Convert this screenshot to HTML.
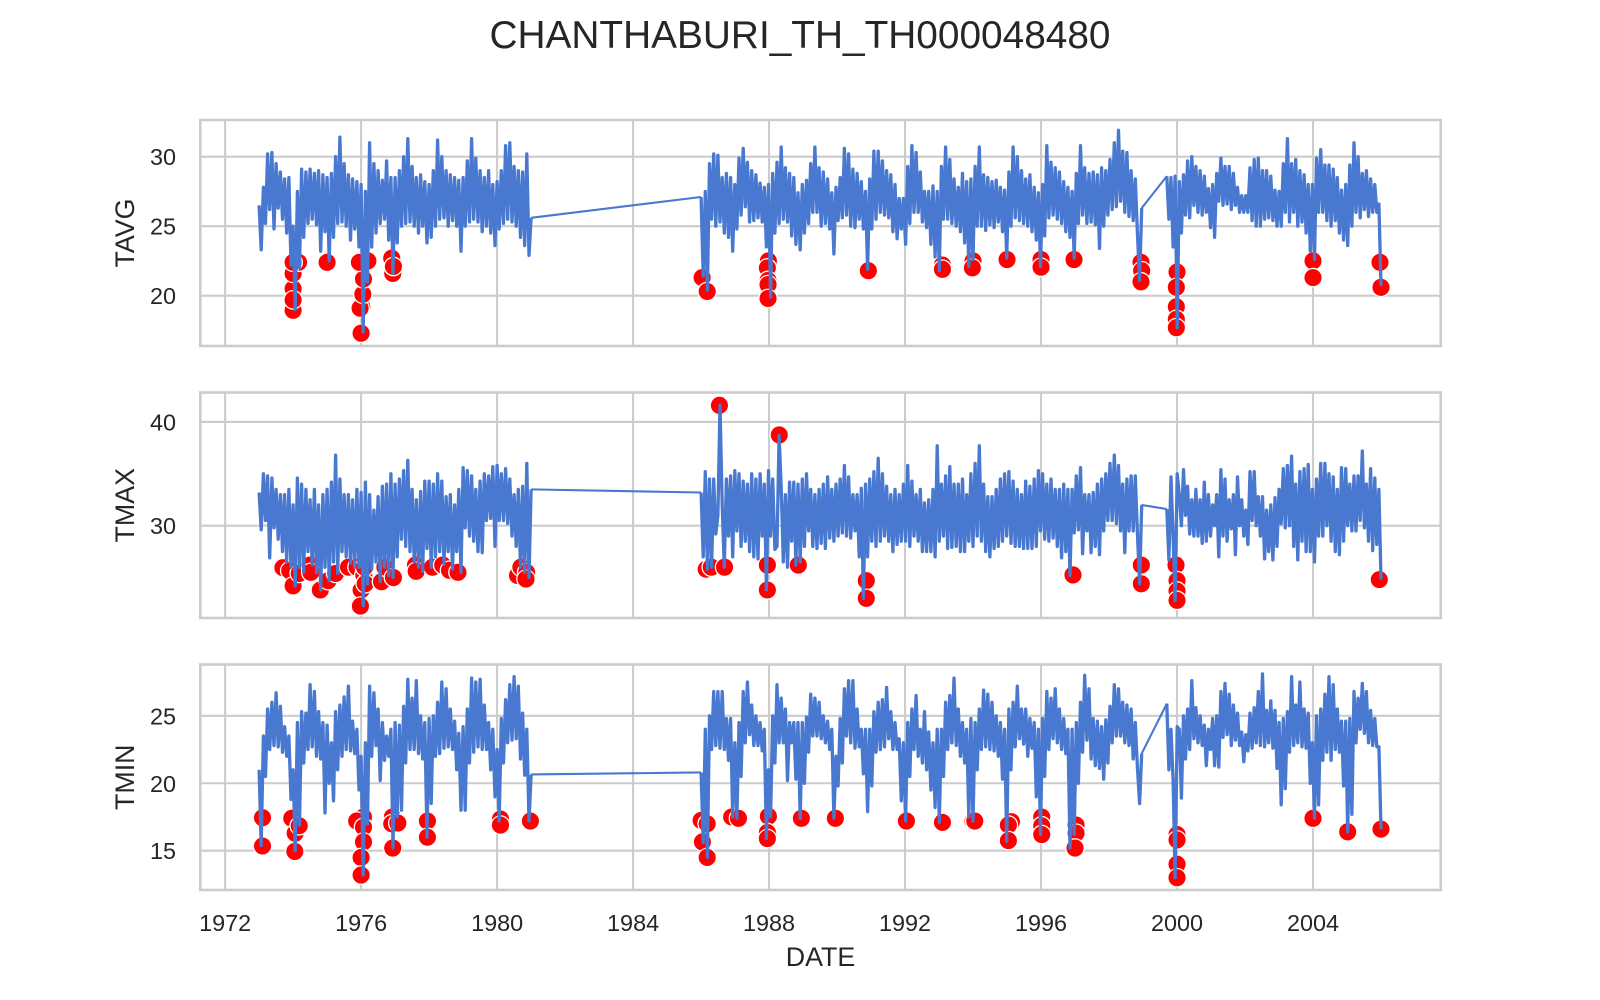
<!DOCTYPE html>
<html lang="en">
<head>
<meta charset="utf-8">
<title>CHANTHABURI_TH_TH000048480</title>
<style>
html,body{margin:0;padding:0;background:#fff;width:1600px;height:1000px;overflow:hidden}
svg{display:block;font-family:"Liberation Sans",Arial,sans-serif}
text{fill:#262626}
</style>
</head>
<body>
<svg id="chart" xmlns="http://www.w3.org/2000/svg" width="1600" height="1000" viewBox="0 0 1600 1000">
<rect x="0" y="0" width="1600" height="1000" fill="#fff"/>
<text x="800" y="48" text-anchor="middle" font-size="38.8">CHANTHABURI_TH_TH000048480</text>
<text x="820.5" y="966" text-anchor="middle" font-size="26.8">DATE</text>
</svg>
<script>
// ---- Shared axis data ----
const xTickYears = [1972, 1976, 1980, 1984, 1988, 1992, 1996, 2000, 2004];
const eraStarts = [1973, 1986, 1999.7];
const eraEnds = [1981, 1998.96, 2006];
const xDomain = [1971.27, 2007.756];

const tavgTicks = [20, 25, 30];
const tmaxTicks = [30, 40];
const tminTicks = [15, 20, 25];
const tavgDomain = [16.38, 32.64];
const tmaxDomain = [21.1, 42.84];
const tminDomain = [12.09, 28.8];

// ---- TAVG readings (high, low pairs, about 8 pairs per year) ----
const tavgEra1 = [
26.5,23.3,27.8,25.2,30.2,26.2,30.3,24.8,29.5,26.3,28.9,25.5,28.4,24.5,28.5,22.2,
25,19,27.5,22,29.1,24.2,28.9,25.2,29.1,25.5,28.8,25.1,29,23.2,28.7,24.6,
28.5,22.5,28.8,24.2,30,25.2,31.4,25.3,29.5,25,28.7,24,28.4,24.8,28.2,23.5,
28,17.4,27.5,21,31,23.5,29.5,24.5,29,25.2,28.3,25.5,29.7,24,28.5,21.6,
28.5,23.8,29,25,30,25.2,31.3,25.3,29.3,25,28.5,24.5,28.7,25,28.2,23.8,
28,24.2,29,25,31.2,25.5,30,25.6,29,25,28.7,25.4,28.5,25,28.3,23.2,
28.5,25,29.7,25.3,31.3,25.5,29.9,25.3,29,24.6,28.5,25,29,24.5,28,23.6,
28.2,24.8,29,25.2,30.8,25.5,31,25.3,29.3,25,29,24.2,28.9,23.6,30.2,22.9,
25.6];
const tavgEra2 = [
27.1,21.4,27.5,20.4,29.5,25.5,30.2,25,30.1,25.3,28.5,24.5,28.8,24.2,28.5,23.2,
28,24.8,29.9,25.8,30.6,26.4,29.6,25.3,29,25.4,28.7,25.6,28.1,25.3,27.8,23.5,
28,19.9,28.8,24.5,29.6,25.2,30.7,25.5,29.2,25.3,28.8,24.3,28.5,23.7,27.4,23.3,
28,24.5,28.3,25.2,29.5,26,30.7,26,29.2,25,28.9,25.2,28.4,24.8,27.4,23,
27.8,25.4,28.5,25.6,30.6,25.8,30.2,25,29.1,24.9,28.8,25.5,28.2,24.8,27.5,21.9,
28.4,24.8,30.4,25.5,30.4,26,29.7,25.8,29,25.6,28.7,24.6,28,24.1,27,24.8,
27,23.7,29.3,25.2,30.8,26,30.3,26,28.9,25.3,27.5,24.9,27.5,23.7,27.9,22.8,
27.5,21.8,29.3,25.5,30.7,25.5,29.8,25.2,28.4,25,27.8,24.6,28.8,23.8,28.2,22.1,
28.4,22.6,29.3,25,30.7,25,28.7,24.7,28.5,25.1,28.2,24.9,28.3,25.3,27.8,24.6,
27.6,22.7,28.9,25,30.7,25.6,30,25.4,29,25.2,28.4,25,28.7,24.6,27.8,24,
27.4,22.1,28,24.3,30.8,25.6,29.6,25.8,29.2,25.5,28.9,25.2,28.2,24.6,27.8,24.2,
27.5,22.7,28.8,25.2,30.8,25.8,29.2,25.2,28.8,25.3,28.9,25.1,28.7,23.4,29.2,25,
29,25.8,29.8,26.2,31,26.4,31.9,26.8,30.4,26,30.3,25.7,29,25.4,28.4,24.5,
21.1,26.3];
const tavgEra3 = [
28.6,25.5,28.5,23.5,28.6,17.7,
28.2,24.5,28.7,25.8,29.7,25.6,30,26.5,29.3,26,29,25.8,28.6,26,27.7,24.9,
28,24.2,28.8,26.8,29.9,26.5,29.3,26.6,29.3,26.2,28.8,26.5,27.8,26,27.2,26,
27.2,26,29.2,25.4,29.8,25,29.9,25,29,25.5,29,25.6,28.6,25.4,27.6,25,
27.5,25,29.5,26,31.3,25.3,29.5,26,29.8,25,29,25.3,28.7,24.5,28,23.2,
28,22.6,29.9,26,30.5,26,29.4,25.4,29.4,25,29.1,25.4,28.5,24.5,27.6,24,
28,23.6,29.4,25,31,26,30,25.6,28.8,26.2,29,25.7,28.4,26,28,26,
26.6,20.7];
const tavgOutlierDates = [1974,1974,1974,1974,1974.16,1974,1975,1976,1976.02,1975.97,1976.05,1976.07,1976.2,1975.95,1976.9,1976.93,1976.95,1986.03,1986.18,1987.98,1987.95,1987.97,1987.97,1987.97,1990.92,1993.1,1993.1,1994,1993.98,1995,1996,1996,1996.97,1998.94,1998.96,1998.94,2000,1999.98,1999.98,1999.98,1999.98,2004,2004,2005.97,2006];
const tavgOutlierValues = [18.95,20.5,19.7,21.6,22.4,22.4,22.4,17.3,19.2,19.1,20.1,21.2,22.5,22.4,22.7,21.6,22.1,21.3,20.3,22.5,22,21.1,20.8,19.8,21.8,22.2,21.9,22.5,22,22.6,22.6,22.05,22.6,22.4,21.8,21,21.7,20.6,19.2,18.3,17.7,22.5,21.3,22.4,20.6];

// ---- TMAX readings ----
const tmaxEra1 = [
33.2,29.6,35,30.5,34.8,26.9,34.6,29.8,33.5,28.7,33,27.5,33,26.5,33.5,26,
32,24.2,34.6,26,34,25.5,33.5,27.5,32.5,26.2,33.5,25.5,32,23.8,33,26,
33.5,24.7,34.2,26.5,36.8,25.4,34.5,27.5,33,27,33,26.4,32.5,26,33.5,26,
33.2,22.3,34.2,24.4,33,25.8,31.5,26.5,32.8,24.6,33.8,26,34,25.2,35,25,
34,27,34.5,28.7,35.3,28,36.3,27.5,33.5,26.5,32.5,26,33.3,25.6,34.3,27.8,
34.3,26,34,27,35,27.5,34.3,26.3,32.8,27.5,33,25.8,32,27.5,33.5,25.5,
35.6,29.8,35.3,29,34.8,28.5,33.5,27.5,34.3,27.4,35,30.5,34.8,30.7,35.7,28,
35.8,30.5,35,30.5,35.5,30.2,34.5,29,33,28,33.5,26,33.8,25.5,36,25,
33.5];
const tmaxEra2 = [
33.2,27,35.2,25.8,34.5,26,34.5,29.2,31,41.6,32,26,34.5,29,34.8,27,
35.3,29.5,35,28,34.3,28.5,34,27.5,35,27,34.5,26.8,35,29,34,23.8,
35.3,29,34.5,27.7,28,38.7,33.7,26.5,33,26,34.2,28.5,34.2,26.2,34,26.5,
34.5,28,35,29.5,33.5,28,33,27.8,33.5,28.3,34,27.8,34.7,28.8,33.5,28.5,
34,29,34.5,29.3,35.8,29,34.7,28.8,33,29.5,33,27,33.6,23,34,27,
34.5,28.5,35.2,28,36.5,28.5,35,29,33.8,28.5,33,27.5,33.5,28.2,33,28.5,
34,28.5,35.8,28,34.3,29,33,28.5,33.5,27.5,32.2,27.5,32.5,27.5,33.5,27,
37.7,28.5,34,29,34.8,27.8,35.7,27.9,34,28,34,27.5,34.5,27.5,33,28.5,
35,28,36,29,37.7,28.5,34,27.5,32.8,27,32.8,27.8,33.5,28,34.5,28.5,
35,29,35.2,28.3,34.3,28,33.5,28,33,27.8,34.3,27.8,33.8,27.8,34.5,28,
35.3,29.5,35,28.7,34,28.5,34.5,28.8,33.5,28,33.5,26.9,34,27.5,33.5,25.2,
33.5,29.3,34.8,29.6,35.6,27.3,33,29.5,33,27.4,33.2,28,34,27.2,34.5,29.5,
35,30.5,36,30.5,36.8,30.2,35.8,29.5,34,27.4,34.5,29.5,34.8,29.5,34.8,29.3,
24.4,32];
const tmaxEra3 = [
31.6,26.7,34.7,29,22.8,35,
33,30,35.4,31,33.8,29.2,32.5,29,33.5,29,32.5,28.3,34.2,28.5,33,29,
32,30,33,27,35.4,29,34.5,28.5,32.5,29.7,33,27.2,34.7,30,32.5,29,
31.5,28.2,35.2,30.5,35.2,30,32.8,29,32.8,26.8,31.5,27.5,32,26.7,32.7,28,
33.5,30.2,35.5,29.8,35.8,30,36.7,28,34,26.7,35.2,28.5,35.5,27.5,35.9,27.5,
33.5,26.5,34.5,29,36,29,36,30,35,28.5,34.7,27.5,33.5,27.2,35.6,28.5,
35.5,30,34,29.5,34.8,29.5,34.8,30.5,37.2,29.8,34,28.5,35.5,27.6,34.6,28.2,
33.5,24.8];
const tmaxOutlierDates = [1973.7,1973.9,1974,1974.18,1974.5,1974.52,1974.8,1975.03,1975.25,1975.63,1975.88,1976.08,1976.1,1976,1976.12,1975.98,1976.6,1976.7,1976.95,1977.6,1977.62,1978.1,1978.4,1978.6,1978.85,1980.6,1980.7,1980.87,1980.85,1986.54,1988.3,1986.15,1986.3,1986.69,1987.95,1987.95,1988.86,1990.86,1990.86,1996.94,1998.95,1998.95,1999.97,2000,2000,2000,2005.95];
const tmaxOutlierValues = [25.95,25.66,24.2,25.4,26.2,25.5,23.8,24.7,25.4,26,26,25.2,26,23.8,24.4,22.25,24.6,26,25,26.2,25.6,26,26.2,25.7,25.5,25.2,26,25.5,24.85,41.6,38.75,25.8,26,26,26.2,23.8,26.2,24.7,23,25.25,26.2,24.4,26.2,24.7,23.7,22.8,24.8];

// ---- TMIN readings ----
const tminEra1 = [
21,15.4,23.5,20.5,25.5,22.5,26,22.8,26.7,22.7,25.7,22.3,24.2,22,23.5,18.8,
21,15,24.5,16.9,25.3,21.5,25.2,22.5,27.3,22.7,26.8,22,25.3,21.8,24.5,17.8,
24.3,20,23,18.7,25.3,21,25.8,22,26.4,22.5,27.2,22.4,24.6,22.2,24,19.5,
22,13.2,23,17,27.2,22,26.7,22.8,25.5,20.2,24.5,21.7,23.5,22,24,15.2,
24.5,17.5,24.3,18,25.7,21.5,27.7,22.5,26.3,22.5,27.6,22.2,25,21.8,24.5,16,
24.8,18.5,25,22,26,22.2,27.5,22.6,27,22.7,25.5,22.5,24.6,21,23.7,18,
24.2,18,25.5,21.5,27.8,22.3,27.5,22.7,27.7,22.5,25.8,22.5,24.5,21,24,19,
22.5,17.2,24.8,21.5,26.2,23,27.3,23.2,27.9,23.3,27.2,21.8,25.2,20.6,24,17.2,
20.65];
const tminEra2 = [
20.8,15.6,24,14.5,25,22.5,26.8,22.8,26.8,22.6,26.8,22.5,24.8,21.7,24.8,17.5,
23,17.4,24.5,20.5,26.8,23,27.5,23.6,25.8,22.8,25,22.8,24.5,22.4,24,15.9,
21,17.5,25,21.5,27.3,23,26.3,23,25.5,20.2,24.5,23,24.5,20.3,24.5,17.4,
24.5,20,24.9,22.3,26.6,23.5,26.3,23.5,26,23.3,25,23,24.6,22.5,24,17.4,
22,19.8,24.8,21.5,27,23.5,27.6,23,27.6,22.6,25.5,22.7,24,20.7,24,17.9,
24,19.8,25.3,22.3,26,22.5,26.2,22.7,27.1,23.3,25.3,22.5,24.5,22.5,23.3,18.7,
23,17.2,24.5,20.5,25.5,22.5,26.5,22,24,21.5,25.3,21,23.8,19.5,23,18.2,
24,17.1,24,20.5,26,22.5,26.5,23,27.8,22.8,25.5,22,24.5,21.5,24,17.5,
24.8,17.2,24.5,21,25.5,22.5,26.9,22.7,26.6,22.5,26,22.4,25,22,24.5,20.3,
24,15.7,25.5,21,26,22.7,27.2,23.3,25.5,22.9,25.5,22,24.8,22.6,24.5,19,
24,16.2,24.8,20.5,26.8,22.5,26.3,23.3,27,23,25.5,22.5,24.8,22.2,24,15.2,
24,16.2,24.5,20,26,22.3,28,23.2,27,21.8,24.8,21.3,24.6,21.1,24.2,20.3,
24.7,21.5,25.7,23,27.3,23.5,27,23.5,26,23,25.8,22.8,25.5,21.8,24.5,21.2,
18.5,22.2];
const tminEra3 = [
25.9,21,24,20.2,13,24.2,
24,18.9,25,21.8,25.5,22.5,27.6,23.3,25.6,23,25,22.8,24.3,21.3,24,22.5,
24.8,21.3,25,21.2,26.8,23.4,27.4,23.6,26.6,22.8,25.8,23.2,25.2,22.8,23.8,21.6,
23.6,22.4,25.2,22.6,25.6,23,26.8,22.8,28.1,22.7,25.4,23,26.1,22.6,25.4,21.1,
24.5,18.4,24.8,19.6,25.3,22.3,27.9,22.8,25.8,23,27.5,22.7,25.5,22.6,25.2,20,
23,17.4,25,18.4,25.5,21.7,26.6,22.3,27.9,21.7,27.3,22.5,25.5,22.3,24.6,19.8,
24.6,16.4,24.8,17.7,26.8,23,26.3,24,27.4,23.7,26.8,23,25.4,22.8,24.8,22.7,
22.7,16.6];
const tminOutlierDates = [1973.1,1973.1,1973.96,1974.06,1974.18,1974.05,1976.07,1975.87,1976.07,1976.07,1976,1976,1976.92,1976.9,1977.08,1976.93,1977.95,1977.95,1980.1,1980.1,1980.98,1986,1986.18,1986.04,1986.18,1986.9,1987.1,1987.98,1987.95,1987.95,1988.95,1989.95,1992.04,1993.1,1994,1994.05,1995.13,1995.04,1995.04,1996.02,1996.02,1996.02,1997.03,1997.03,1997,2000,2000,2000,2000,2004,2005.02,2006];
const tminOutlierValues = [17.45,15.35,17.4,16.3,16.85,14.95,17.5,17.2,16.75,15.65,14.5,13.2,17.5,17,17.05,15.2,17.2,16,17.35,16.9,17.2,17.25,17,15.65,14.5,17.5,17.4,17.55,16.35,15.9,17.4,17.4,17.2,17.1,17.2,17.2,17.15,16.9,15.75,17.5,16.85,16.2,16.9,16.3,15.2,16.2,15.8,14,13,17.4,16.4,16.6];

// ---- Rendering ----
const NS = 'http://www.w3.org/2000/svg';
const svg = document.getElementById('chart');
const plotLeft = 200.3, plotRight = 1440.7;

function xScale(year) {
  return plotLeft + (year - xDomain[0]) / (xDomain[1] - xDomain[0]) * (plotRight - plotLeft);
}
function make(tag, attrs) {
  const el = document.createElementNS(NS, tag);
  for (const k in attrs) el.setAttribute(k, attrs[k]);
  return el;
}
function drawPanel(label, top, bottom, domain, ticks, eras, outDates, outValues, showXLabels) {
  const key = label.toLowerCase();
  const yScale = v => bottom - (v - domain[0]) / (domain[1] - domain[0]) * (bottom - top);
  const group = make('g', {});
  
  
  svg.appendChild(group);

  xTickYears.forEach(year => {
    const x = xScale(year);
    const grid = make('line', {x1: x, x2: x, y1: top, y2: bottom, stroke: '#cccccc', 'stroke-width': 2.1});
    
    
    group.appendChild(grid);
    if (showXLabels) {
      const t = make('text', {x: x, y: 931, 'text-anchor': 'middle', 'font-size': 23.4});
      
      
      t.textContent = year;
      group.appendChild(t);
    }
  });
  ticks.forEach(tick => {
    const y = yScale(tick);
    const grid = make('line', {x1: plotLeft, x2: plotRight, y1: y, y2: y, stroke: '#cccccc', 'stroke-width': 2.1});
    
    
    group.appendChild(grid);
    const t = make('text', {x: 176, y: y + 8.5, 'text-anchor': 'end', 'font-size': 23.4});
    
    
    t.textContent = tick;
    group.appendChild(t);
  });

  const cy = (top + bottom) / 2;
  const yTitle = make('text', {x: 134, y: cy, 'text-anchor': 'middle', 'font-size': 26.8, transform: 'rotate(-90 134 ' + cy + ')'});
  
  
  yTitle.textContent = label;
  group.appendChild(yTitle);

  outDates.forEach((d, i) => {
    const dot = make('circle', {cx: xScale(d), cy: yScale(outValues[i]), r: 9.2, fill: '#ff0000', stroke: '#ffffff', 'stroke-width': 1.3});
    
    
    group.appendChild(dot);
  });

  // Thin connectors across the data gaps, then the dense daily bands on top.
  eras.forEach((values, e) => {
    if (e === eras.length - 1) return;
    const next = eras[e + 1];
    const link = make('line', {
      x1: xScale(eraEnds[e]), y1: yScale(values[values.length - 1]),
      x2: xScale(eraStarts[e + 1]), y2: yScale(next[0]),
      stroke: '#4878d0', 'stroke-width': 2.1
    });
    
    
    group.appendChild(link);
  });
  eras.forEach((values, e) => {
    const step = (eraEnds[e] - eraStarts[e]) / (values.length - 1);
    const pts = values.map((v, i) => xScale(eraStarts[e] + i * step).toFixed(1) + ',' + yScale(v).toFixed(1));
    const line = make('polyline', {points: pts.join(' '), fill: 'none', stroke: '#4878d0', 'stroke-width': 3.3, 'stroke-linejoin': 'round', 'stroke-linecap': 'butt'});
    
    
    group.appendChild(line);
  });

  const frame = make('rect', {x: plotLeft, y: top, width: plotRight - plotLeft, height: bottom - top, fill: 'none', stroke: '#cccccc', 'stroke-width': 2.6});
  
  
  group.appendChild(frame);
}

drawPanel('TAVG', 120, 346, tavgDomain, tavgTicks, [tavgEra1, tavgEra2, tavgEra3], tavgOutlierDates, tavgOutlierValues, false);
drawPanel('TMAX', 392.5, 618, tmaxDomain, tmaxTicks, [tmaxEra1, tmaxEra2, tmaxEra3], tmaxOutlierDates, tmaxOutlierValues, false);
drawPanel('TMIN', 664.5, 890, tminDomain, tminTicks, [tminEra1, tminEra2, tminEra3], tminOutlierDates, tminOutlierValues, true);
</script>
</body>
</html>
